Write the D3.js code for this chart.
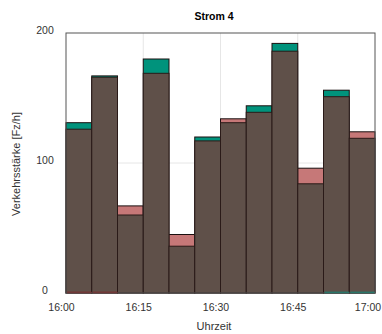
<!DOCTYPE html>
<html>
<head>
<meta charset="utf-8">
<script src="https://cdn.jsdelivr.net/npm/d3@7"></script>
<style>
  body { margin: 0; background: #fff; }
  text { font-family: "Liberation Sans", Arial, sans-serif; }
</style>
</head>
<body>
<script>
// interval starts (minutes after 16:00)
var starts = [0, 5, 10, 15, 20, 25, 30, 35, 40, 45, 50, 55];
// the two series (teal / pink), Fz/h
var seriesA = [131, 167, 60, 180, 36, 120, 131, 144, 192, 84, 156, 119];
var seriesB = [126, 166, 67, 169, 45, 117, 134, 139, 186, 96, 151, 124];
// thin coloured line at the base of some bars
var baseEdge = ["B", "B", null, null, null, null, null, null, null, null, "A", "A"];

var xTicks = [0, 15, 30, 45, 60];
var xTickLabels = ["16:00", "16:15", "16:30", "16:45", "17:00"];
var yTicks = [0, 100, 200];

var width = 382, height = 334;
var margin = {top: 33, right: 7, bottom: 40, left: 66};

var colA = "#00937c", colB = "#c67878", colBoth = "#5f5049";

var svg = d3.select("body")
    .append("svg")
    .attr("width", width)
    .attr("height", height);

var x = d3.scaleLinear().domain([0, 60]).range([margin.left, width - margin.right]);
var y = d3.scaleLinear().domain([0, 200]).range([height - margin.bottom - 1, margin.top]);

// grid
svg.append("g").selectAll("line")
    .data(xTicks.slice(1, -1))
    .enter().append("line")
    .attr("x1", d => x(d)).attr("x2", d => x(d))
    .attr("y1", y(0)).attr("y2", y(200))
    .attr("stroke", "#e6e6e6");
svg.append("g").selectAll("line")
    .data(yTicks.slice(1, -1))
    .enter().append("line")
    .attr("x1", x(0)).attr("x2", x(60))
    .attr("y1", d => y(d)).attr("y2", d => y(d))
    .attr("stroke", "#e6e6e6");

var data = starts.map((s, i) => ({s: s, a: seriesA[i], b: seriesB[i], edge: baseEdge[i]}));

// taller series first, overlap on top
svg.append("g").selectAll("rect")
    .data(data)
    .enter().append("rect")
    .attr("x", d => x(d.s))
    .attr("width", d => x(d.s + 5) - x(d.s))
    .attr("y", d => y(Math.max(d.a, d.b)))
    .attr("height", d => y(0) - y(Math.max(d.a, d.b)))
    .attr("fill", d => d.a > d.b ? colA : colB)
    .attr("stroke", "#1a1010")
    .attr("stroke-width", 1);

svg.append("g").selectAll("rect")
    .data(data)
    .enter().append("rect")
    .attr("x", d => x(d.s))
    .attr("width", d => x(d.s + 5) - x(d.s))
    .attr("y", d => y(Math.min(d.a, d.b)))
    .attr("height", d => y(0) - y(Math.min(d.a, d.b)))
    .attr("fill", colBoth)
    .attr("stroke", "#2a1a18")
    .attr("stroke-width", 1);

svg.append("g").selectAll("line")
    .data(data.filter(d => d.edge))
    .enter().append("line")
    .attr("x1", d => x(d.s) + 1).attr("x2", d => x(d.s + 5))
    .attr("y1", y(0) - 0.5).attr("y2", y(0) - 0.5)
    .attr("stroke", d => d.edge == "A" ? colA : "#8a1c1c")
    .attr("stroke-width", 1.5);

// frame
svg.append("rect")
    .attr("x", x(0)).attr("y", y(200))
    .attr("width", x(60) - x(0)).attr("height", y(0) - y(200))
    .attr("fill", "none")
    .attr("stroke", "#555")
    .attr("stroke-width", 1);

// tick labels
svg.append("g").selectAll("text")
    .data(yTicks)
    .enter().append("text")
    .attr("x", 45)
    .attr("y", d => y(d) - 2)
    .attr("text-anchor", "middle")
    .attr("dominant-baseline", "middle")
    .attr("font-size", 10.5)
    .attr("fill", "#333")
    .text(d => d);

// last label kept inside the window
svg.append("g").selectAll("text")
    .data(xTicks)
    .enter().append("text")
    .attr("x", d => Math.min(x(d) - 4.5, width - 14))
    .attr("y", 311)
    .attr("text-anchor", "middle")
    .attr("font-size", 10.5)
    .attr("fill", "#333")
    .text((d, i) => xTickLabels[i]);

// labels
svg.append("text")
    .attr("x", 214).attr("y", 20)
    .attr("text-anchor", "middle")
    .attr("font-size", 10.5)
    .attr("font-weight", "bold")
    .text("Strom 4");

svg.append("text")
    .attr("x", 214).attr("y", 330)
    .attr("text-anchor", "middle")
    .attr("font-size", 11)
    .attr("fill", "#333")
    .text("Uhrzeit");

svg.append("text")
    .attr("transform", "translate(20,164) rotate(-90)")
    .attr("text-anchor", "middle")
    .attr("font-size", 11)
    .attr("fill", "#333")
    .text("Verkehrsstärke [Fz/h]");
</script>
</body>
</html>
